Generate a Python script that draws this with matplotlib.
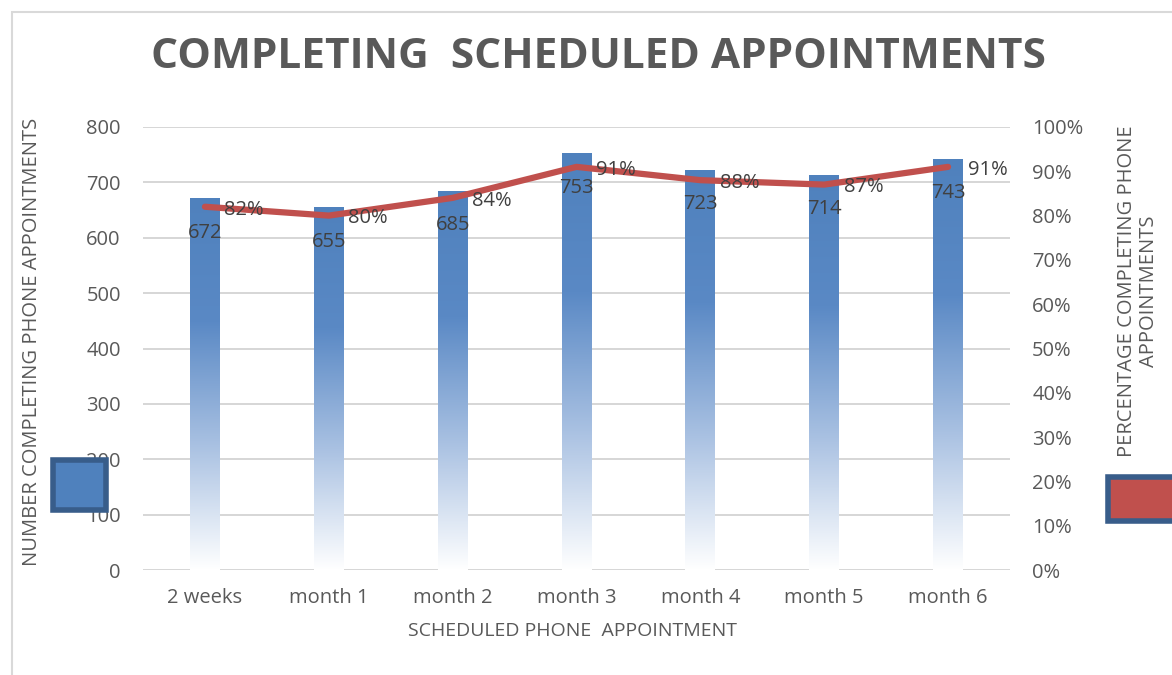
import matplotlib
matplotlib.use("Agg")
import matplotlib.pyplot as plt
import numpy as np
from matplotlib.patches import Rectangle
from matplotlib.colors import LinearSegmentedColormap

categories = ["2 weeks", "month 1", "month 2", "month 3", "month 4", "month 5", "month 6"]
counts = [672, 655, 685, 753, 723, 714, 743]
percent = [82, 80, 84, 91, 88, 87, 91]
pct_labels = ["82%", "80%", "84%", "91%", "88%", "87%", "91%"]

W, H = 1172, 675
fig = plt.figure(figsize=(W / 100, H / 100), dpi=100)
plt.rcParams['font.family'] = ['Open Sans', 'DejaVu Sans']
txt = "#595959"

# outer chart frame
fig.patches.append(Rectangle((12 / W, -0.01), 1.1, (H - 12) / H + 0.01, transform=fig.transFigure,
                             fill=False, edgecolor="#d9d9d9", linewidth=1.5))

ax = fig.add_axes([143 / W, 1 - 570 / H, (1010 - 143) / W, (570 - 127) / H])
ax2 = ax.twinx()
ax.set_zorder(1)
ax2.set_zorder(2)
ax.patch.set_visible(False)

x = np.arange(len(categories))
ax.set_xlim(-0.5, len(categories) - 0.5)
ax.set_ylim(0, 800)
ax2.set_ylim(0, 1.0)

ax.set_yticks(np.arange(0, 801, 100))
ax.grid(axis='y', color='#d0d0d0', linewidth=1.2)
ax.set_axisbelow(True)
for a in (ax, ax2):
    for s in a.spines.values():
        s.set_visible(False)
    a.tick_params(length=0, labelsize=14.5, labelcolor=txt)
ax.tick_params(axis='y', pad=16)
ax2.tick_params(axis='y', pad=16)
ax.set_xticks(x)
ax.set_xticklabels(categories)
ax.tick_params(axis='x', pad=13)
ax2.set_yticks(np.arange(0, 1.01, 0.1))
ax2.set_yticklabels([f"{int(round(v*100))}%" for v in np.arange(0, 1.01, 0.1)])

cmap = LinearSegmentedColormap.from_list("g", ["#ffffff", "#a9c1e2", "#5a89c5", "#4f81bd"])
grad = np.linspace(0, 1, 256).reshape(-1, 1)
bw = 0.24
bars = ax.bar(x, counts, width=bw, color='none', edgecolor='none')
for b in bars:
    x0, w, h = b.get_x(), b.get_width(), b.get_height()
    im = ax.imshow(grad, cmap=cmap, origin='lower', extent=[x0, x0 + w, 0, h],
                   aspect='auto', zorder=2, vmin=0, vmax=1)
    im.set_clip_path(b)
ax.set_xlim(-0.5, len(categories) - 0.5)
ax.set_ylim(0, 800)

for xi, c in zip(x, counts):
    ax.annotate(str(c), (xi, c), xytext=(0, -25), textcoords='offset points',
                ha='center', va='center', fontsize=14.5, color='#404040', zorder=5)

pv = [p / 100 for p in percent]
ax2.plot(x, pv, color='#c0504d', linewidth=4.5, solid_capstyle='round', zorder=3)
for xi, p, l in zip(x, pv, pct_labels):
    ax2.annotate(l, (xi, p), xytext=(14, -2), textcoords='offset points',
                 ha='left', va='center', fontsize=14.5, color='#404040', zorder=5)

fig.text(598 / W, 1 - 57 / H, "COMPLETING  SCHEDULED APPOINTMENTS", ha='center', va='center',
         fontsize=30.5, fontweight='bold', color=txt)
fig.text(573 / W, 1 - 631 / H, "SCHEDULED PHONE  APPOINTMENT", ha='center', va='center',
         fontsize=14, color=txt)
fig.text(32 / W, 1 - 342 / H, "NUMBER COMPLETING PHONE APPOINTMENTS", rotation=90,
         ha='center', va='center', fontsize=14.5, color=txt)
fig.text(1138 / W, 1 - 291 / H, "PERCENTAGE COMPLETING PHONE\nAPPOINTMENTS", rotation=90,
         ha='center', va='center', fontsize=14.5, color=txt, multialignment='center',
         linespacing=1.2)

# legend markers
fig.patches.append(Rectangle((53 / W, 1 - 510 / H), 53 / W, 50 / H, transform=fig.transFigure,
                             facecolor='#4f81bd', edgecolor='#385d8a', linewidth=4, zorder=10))
fig.patches.append(Rectangle((1108 / W, 1 - 521 / H), 80 / W, 44 / H, transform=fig.transFigure,
                             facecolor='#c0504d', edgecolor='#385d8a', linewidth=4, zorder=10))

fig.savefig("out.png", dpi=100)
